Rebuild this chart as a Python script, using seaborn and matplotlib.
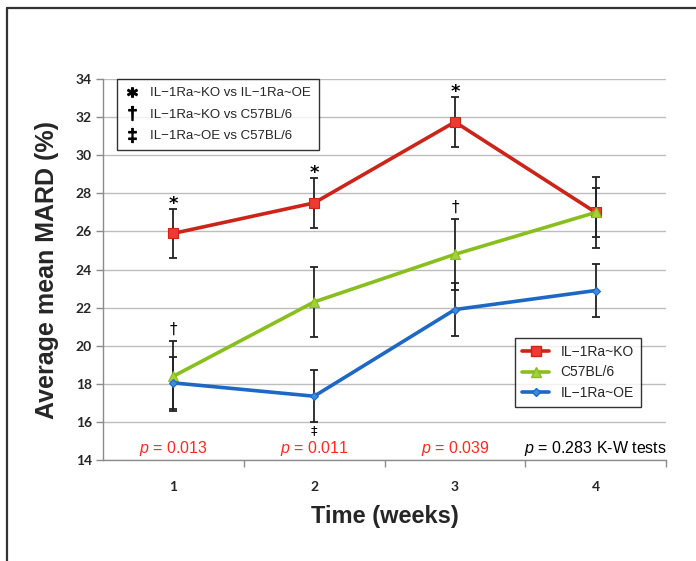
import numpy as np
import pandas as pd
import seaborn as sns
import matplotlib
matplotlib.use("Agg")
import matplotlib.pyplot as plt
from matplotlib.lines import Line2D

# ---- data ----
weeks = [1, 2, 3, 4]
groups = ["IL\u22121Ra~KO", "C57BL/6", "IL\u22121Ra~OE"]
ko_mean = [25.9, 27.5, 31.75, 27.0]
ko_err = [1.3, 1.3, 1.3, 1.3]
c57_mean = [18.4, 22.3, 24.8, 27.0]
c57_err = [1.85, 1.85, 1.85, 1.85]
oe_mean = [18.05, 17.35, 21.9, 22.9]
oe_err = [1.37, 1.37, 1.37, 1.37]
p_values = ["0.013", "0.011", "0.039", "0.283"]
p_suffix = ["", "", "", " K-W tests"]
sig_legend = ["IL\u22121Ra~KO vs IL\u22121Ra~OE",
              "IL\u22121Ra~KO vs C57BL/6",
              "IL\u22121Ra~OE vs C57BL/6"]
# significance marks: (week, group index, symbol, above/below)
sig_week = [1, 2, 3, 1, 3, 2]
sig_group = [0, 0, 0, 1, 1, 2]
sig_symbol = ["*", "*", "*", "\u2020", "\u2020", "\u2021"]
sig_above = [True, True, True, True, True, False]

means = [ko_mean, c57_mean, oe_mean]
errs = [ko_err, c57_err, oe_err]

sns.set_theme(style="white")
plt.rcParams["font.family"] = ["Liberation Sans", "DejaVu Sans"]
plt.rcParams["mathtext.fontset"] = "custom"
plt.rcParams["mathtext.it"] = "Liberation Sans:italic"
plt.rcParams["mathtext.rm"] = "Liberation Sans"

df = pd.DataFrame({
    "week": weeks * 3,
    "mard": ko_mean + c57_mean + oe_mean,
    "group": [g for g in groups for _ in weeks],
})

line_colors = {groups[0]: "#cc2418", groups[1]: "#88bf1c", groups[2]: "#1d68c4"}
face_colors = {groups[0]: "#ee3b32", groups[1]: "#a2d13a", groups[2]: "#3d8ae0"}
markers = {groups[0]: "s", groups[1]: "^", groups[2]: "D"}
msizes = {groups[0]: 7, groups[1]: 6.5, groups[2]: 4.5}

fig = plt.figure(figsize=(6.96, 5.61), dpi=100)
ax = fig.add_axes([0.148, 0.18, 0.809, 0.679])

# error bars
for g, m, e in zip(groups, means, errs):
    ax.errorbar(weeks, m, yerr=e, fmt="none", ecolor="#222222",
                elinewidth=1.3, capsize=3.2, capthick=1.3, zorder=2)

sns.lineplot(data=df, x="week", y="mard", hue="group", style="group",
             hue_order=groups, style_order=groups,
             palette=line_colors, markers=markers, dashes=False,
             linewidth=2.6, legend=False, ax=ax, zorder=3)

# style markers per group
lines = [l for l in ax.get_lines() if len(l.get_xdata()) == 4 and l.get_linestyle() == "-"]
for l in lines:
    c = matplotlib.colors.to_hex(l.get_color())
    for g in groups:
        if matplotlib.colors.to_hex(line_colors[g]) == c:
            l.set_markerfacecolor(face_colors[g])
            l.set_markeredgecolor(line_colors[g])
            l.set_markeredgewidth(0.8)
            l.set_markersize(msizes[g])
            l.set_zorder(3)

# significance symbols
for w, gi, s, above in zip(sig_week, sig_group, sig_symbol, sig_above):
    m = means[gi][weeks.index(w)]
    e = errs[gi][weeks.index(w)]
    if s == "*":
        ax.annotate(s, (w, m + e), xytext=(0, -3), textcoords="offset points",
                    ha="center", va="bottom", fontsize=13, fontweight="bold",
                    family="DejaVu Sans", color="black")
    elif above:
        ax.annotate(s, (w, m + e), xytext=(0, 3), textcoords="offset points",
                    ha="center", va="bottom", fontsize=11, color="black",
                    family="DejaVu Sans")
    else:
        ax.annotate(s, (w, m - e), xytext=(0, -1), textcoords="offset points",
                    ha="center", va="top", fontsize=9.5, color="black",
                    family="DejaVu Sans")

# p-values
for w, p, suf in zip(weeks, p_values, p_suffix):
    col = "#ff2a1a" if suf == "" else "black"
    ax.text(w, 14.62, r"$\it{p}$ = " + p + suf, ha="center", va="center",
            fontsize=11.5, color=col)

ax.set_xlim(0.5, 4.5)
ax.set_ylim(14, 34)
ax.set_yticks(np.arange(14, 35, 2))
ax.set_xticks(weeks)
ax.set_xticks([1.5, 2.5, 3.5, 4.5], minor=True)
ax.yaxis.grid(True, color="#bdbdbd", linewidth=1.0)
ax.xaxis.grid(False)
ax.set_axisbelow(True)
for sp in ["top", "right"]:
    ax.spines[sp].set_visible(False)
for sp in ["left", "bottom"]:
    ax.spines[sp].set_color("#8c8c8c")
    ax.spines[sp].set_linewidth(1.0)
ax.tick_params(axis="y", which="major", left=True, length=5, width=1,
               color="#8c8c8c", pad=3, labelsize=10)
ax.tick_params(axis="x", which="major", bottom=False, pad=9, labelsize=10)
ax.tick_params(axis="x", which="minor", bottom=True, length=5, width=1,
               color="#8c8c8c")
for lab in ax.get_xticklabels() + ax.get_yticklabels():
    lab.set_fontweight("bold")
    lab.set_family(["Lato", "DejaVu Sans"])

ax.set_xlabel("Time (weeks)", fontsize=17, fontweight="bold", labelpad=9)
ax.set_ylabel("Average mean MARD (%)", fontsize=18, fontweight="bold", labelpad=12)

# legend of series
h_series = [Line2D([0], [0], color=line_colors[g], lw=2.6, marker=markers[g],
                   markerfacecolor=face_colors[g], markeredgecolor=line_colors[g],
                   markersize=msizes[g]) for g in groups]
leg2 = ax.legend(h_series, groups, loc="lower right", bbox_to_anchor=(0.955, 0.14),
                 frameon=True, fancybox=False, edgecolor="black", fontsize=10,
                 handlelength=2.0, borderpad=0.5, labelspacing=0.45,
                 handletextpad=0.8, borderaxespad=0)
leg2.get_frame().set_linewidth(1.0)
ax.add_artist(leg2)

# legend of significance symbols
h_sig = [Line2D([0], [0], ls="none", marker=r"$\mathbf{*}$", color="black", markersize=7),
         Line2D([0], [0], ls="none", marker="$\u2020$", color="black", markersize=10),
         Line2D([0], [0], ls="none", marker="$\u2021$", color="black", markersize=10)]
leg1 = ax.legend(h_sig, sig_legend, loc="upper left", bbox_to_anchor=(0.025, 1.0),
                 frameon=True, fancybox=False, edgecolor="black", fontsize=9.5,
                 handlelength=1.0, borderpad=0.6, labelspacing=0.7,
                 handletextpad=0.9, borderaxespad=0)
leg1.get_frame().set_linewidth(1.0)

# figure border (top and left)
fig.add_artist(Line2D([7 / 696, 1.0], [1 - 8 / 561, 1 - 8 / 561],
                      transform=fig.transFigure, color="#333333", lw=1.6))
fig.add_artist(Line2D([7 / 696, 7 / 696], [0, 1 - 8 / 561],
                      transform=fig.transFigure, color="#333333", lw=1.6))

fig.savefig("out.png", dpi=100)
